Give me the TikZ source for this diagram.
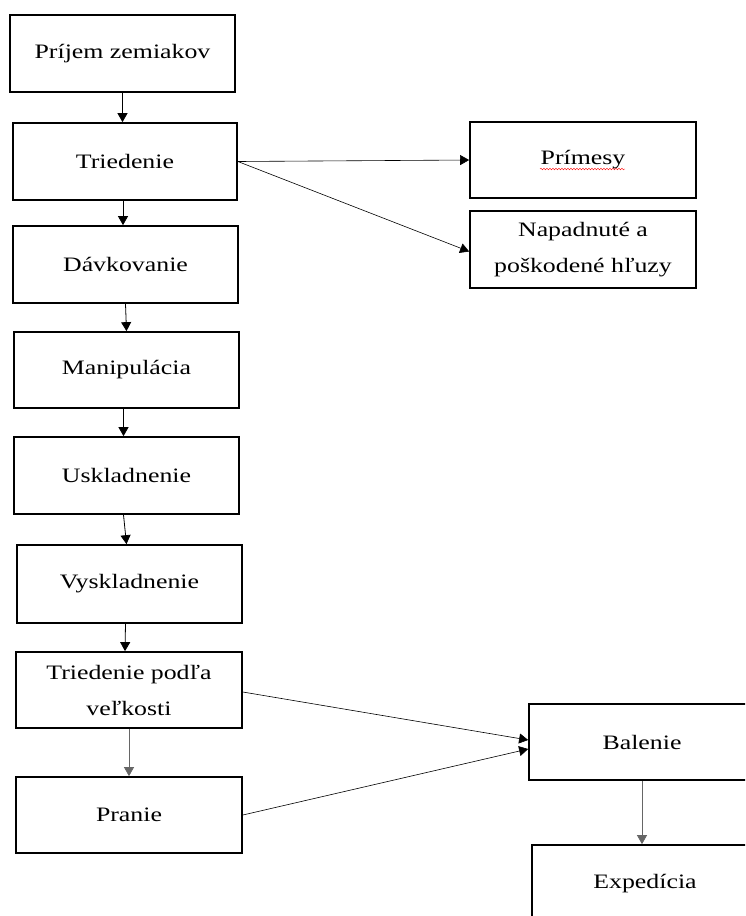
\documentclass[tikz,border=0pt]{standalone}
\usepackage{fontspec}
\setmainfont{Liberation Serif}[FakeStretch=1.26]
\usetikzlibrary{arrows.meta,positioning,decorations.pathmorphing}

\begin{document}
\begin{tikzpicture}[x=1pt, y=-1pt, every node/.style={font=\fontsize{20.5}{36}\selectfont}]
    % Štýly
    \tikzstyle{krok}=[draw, line width=1.7pt, minimum width=225pt, minimum height=77pt, align=center, inner sep=0pt]
    \tikzstyle{sipka}=[line width=0.8pt, -{Triangle[length=9pt,width=10pt]}]

    \useasboundingbox (0,0) rectangle (745,916);
    \clip (0,0) rectangle (745,916);

    % Hlavný tok
    \node[krok] (k1) at (122.5,53.5) {Príjem zemiakov};
    \node[krok, minimum width=224pt] (k2) at (125,161.5) {Triedenie};
    \node[krok] (k3) at (125.5,264.5) {Dávkovanie};
    \node[krok, minimum height=76pt] (k4) at (126.5,370) {Manipulácia};
    \node[krok] (k5) at (126.5,475.5) {Uskladnenie};
    \node[krok, minimum height=78pt] (k6) at (129.5,584) {Vyskladnenie};
    \node[krok, minimum width=226pt, minimum height=76pt] (k7) at (129,690) {Triedenie podľa\\veľkosti};
    \node[krok, minimum width=226pt, minimum height=76pt] (k8) at (129,815) {Pranie};

    % Odpad z triedenia
    \node[krok, minimum width=226pt, minimum height=76pt] (k9) at (583,160) {Prímesy};
    \node[krok, minimum width=226pt] (k10) at (583,249.5) {Napadnuté a\\poškodené hľuzy};

    % Balenie a expedícia
    \node[krok, minimum width=226pt, minimum height=76pt] (k11) at (642,742) {Balenie};
    \node[krok, minimum width=226pt] (k12) at (645,883.5) {Expedícia};

    % Podčiarknutie
    \draw[red, line width=0.4pt, decorate, decoration={snake, amplitude=0.8pt, segment length=3pt}]
        ([xshift=-43pt,yshift=-9pt]k9.center) -- ([xshift=42pt,yshift=-9pt]k9.center);

    % Šípky
    \draw[sipka] (k1.south) -- (k1.south |- k2.north);
    \draw[sipka] ([xshift=-2pt]k2.south) -- ([xshift=-2pt]k2.south |- k3.north);
    \draw[sipka] (k3.south) -- (k4.north);
    \draw[sipka] ([xshift=-3pt]k4.south) -- ([xshift=-3pt]k5.north);
    \draw[sipka] ([xshift=-3pt]k5.south) -- ([xshift=-3pt]k6.north);
    \draw[sipka] ([xshift=-4pt]k6.south) -- ([xshift=-4pt]k7.north);
    \draw[sipka, gray!80!black] (k7.south) -- (k8.north);

    \draw[sipka, line width=0.6pt] (k2.east) -- (k9.west);
    \draw[sipka, line width=0.6pt] (k2.east) -- ([yshift=-2pt]k10.west);

    \draw[sipka, line width=0.6pt] ([yshift=-2pt]k7.east) -- ([yshift=2pt]k11.west);
    \draw[sipka, line width=0.6pt] (k8.east) -- ([yshift=-7pt]k11.west);
    \draw[sipka, gray!80!black] (k11.south) -- (k11.south |- k12.north);
\end{tikzpicture}
\end{document}
